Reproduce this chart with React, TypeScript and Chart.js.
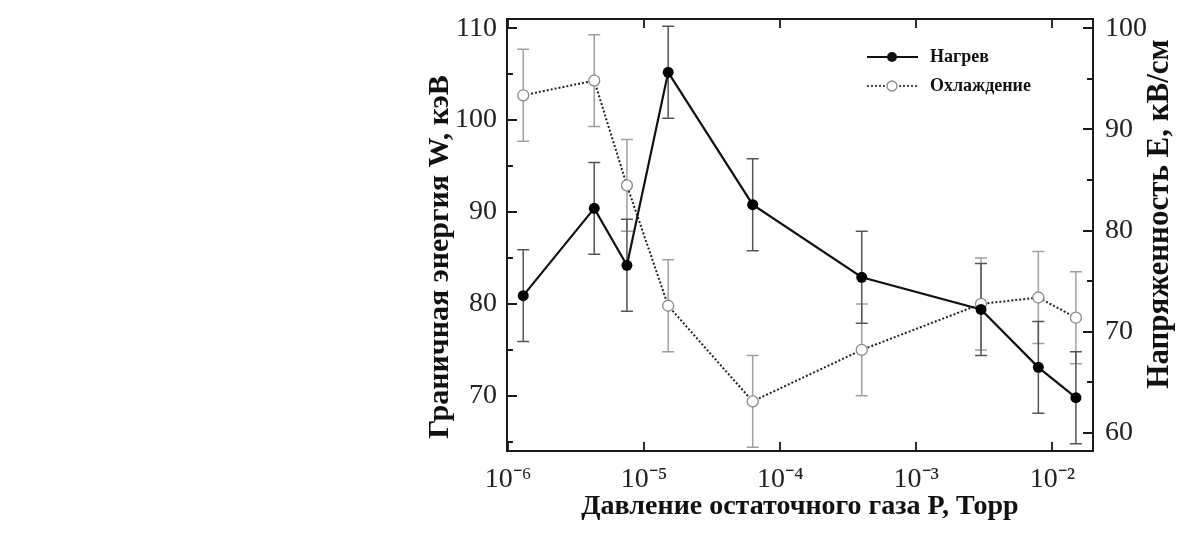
import React, { useEffect, useRef } from "react";
import { Chart, registerables } from "chart.js";

Chart.register(...registerables);

// ---- data ----
const pressure = [1.29e-6, 4.29e-6, 7.46e-6, 1.5e-5, 6.27e-5, 3.97e-4, 2.99e-3, 7.89e-3, 1.49e-2];
const heating = [80.9, 90.4, 84.2, 105.2, 90.8, 82.9, 79.4, 73.1, 69.8];
const heatingErr = [5, 5, 5, 5, 5, 5, 5, 5, 5];
const cooling = [102.7, 104.3, 92.9, 79.8, 69.4, 75.0, 80.0, 80.7, 78.5];
const coolingErr = [5, 5, 5, 5, 5, 5, 5, 5, 5];

const seriesNames = ["Нагрев", "Охлаждение"];
const xTickValues = [1e-6, 1e-5, 1e-4, 1e-3, 1e-2];
const xTickLabels = ["10⁻⁶", "10⁻⁵", "10⁻⁴", "10⁻³", "10⁻²"];
const wTickValues = [65, 70, 75, 80, 85, 90, 95, 100, 105, 110];
const eTickValues = [60, 65, 70, 75, 80, 85, 90, 95, 100];

const xTitle = "Давление остаточного газа P, Торр";
const wTitle = "Граничная энергия W, кэВ";
const eTitle = "Напряженность E, кВ/см";

const SERIF = "'Liberation Serif', 'Times New Roman', serif";
const AXIS = "#1a1a1a";

const decorPlugin = {
  id: "decor",
  beforeDatasetsDraw(chart: any) {
    const xs = chart.scales.x;
    const ys = chart.scales.y;
    const ctx = chart.ctx;
    const drawErr = (vals: number[], errs: number[], color: string) => {
      ctx.save();
      ctx.strokeStyle = color;
      ctx.lineWidth = 1.5;
      vals.forEach((v, i) => {
        const px = xs.getPixelForValue(pressure[i]);
        const t = ys.getPixelForValue(v + errs[i]);
        const b = ys.getPixelForValue(v - errs[i]);
        ctx.beginPath();
        ctx.moveTo(px, t);
        ctx.lineTo(px, b);
        ctx.moveTo(px - 6, t);
        ctx.lineTo(px + 6, t);
        ctx.moveTo(px - 6, b);
        ctx.lineTo(px + 6, b);
        ctx.stroke();
      });
      ctx.restore();
    };
    drawErr(cooling, coolingErr, "#a0a0a0");
    drawErr(heating, heatingErr, "#555555");
  },
  afterDraw(chart: any) {
    const ctx = chart.ctx;
    const a = chart.chartArea;
    const xs = chart.scales.x;
    const ys = chart.scales.y;
    const y2 = chart.scales.y2;
    ctx.save();
    ctx.strokeStyle = AXIS;
    ctx.lineWidth = 2;
    // top border
    ctx.beginPath();
    ctx.moveTo(a.left - 1, a.top);
    ctx.lineTo(a.right + 1, a.top);
    ctx.stroke();
    // inward ticks
    ctx.lineWidth = 1.8;
    ctx.beginPath();
    xTickValues.forEach((v) => {
      const px = Math.round(xs.getPixelForValue(v));
      ctx.moveTo(px, a.bottom);
      ctx.lineTo(px, a.bottom - 9);
      ctx.moveTo(px, a.top);
      ctx.lineTo(px, a.top + 9);
    });
    wTickValues.forEach((v) => {
      const py = Math.round(ys.getPixelForValue(v));
      const len = v % 10 === 0 ? 10 : 6;
      ctx.moveTo(a.left, py);
      ctx.lineTo(a.left + len, py);
    });
    eTickValues.forEach((v) => {
      const py = Math.round(y2.getPixelForValue(v));
      const len = v % 10 === 0 ? 10 : 6;
      ctx.moveTo(a.right, py);
      ctx.lineTo(a.right - len, py);
    });
    ctx.stroke();

    // legend
    const lx = a.left + 360;
    const rows = [a.top + 38, a.top + 67];
    ctx.font = `bold 18px ${SERIF}`;
    ctx.textBaseline = "middle";
    ctx.textAlign = "left";
    ctx.fillStyle = "#111";
    // heating
    ctx.strokeStyle = "#111";
    ctx.lineWidth = 2;
    ctx.setLineDash([]);
    ctx.beginPath();
    ctx.moveTo(lx, rows[0]);
    ctx.lineTo(lx + 51, rows[0]);
    ctx.stroke();
    ctx.beginPath();
    ctx.arc(lx + 25, rows[0], 5, 0, Math.PI * 2);
    ctx.fill();
    ctx.fillText(seriesNames[0], lx + 63, rows[0]);
    // cooling
    ctx.lineWidth = 1.5;
    ctx.setLineDash([2, 2]);
    ctx.beginPath();
    ctx.moveTo(lx, rows[1]);
    ctx.lineTo(lx + 51, rows[1]);
    ctx.stroke();
    ctx.setLineDash([]);
    ctx.beginPath();
    ctx.arc(lx + 25, rows[1], 5, 0, Math.PI * 2);
    ctx.fillStyle = "#fff";
    ctx.fill();
    ctx.strokeStyle = "#888";
    ctx.lineWidth = 1.3;
    ctx.stroke();
    ctx.fillStyle = "#111";
    ctx.fillText(seriesNames[1], lx + 63, rows[1]);

    // axis titles
    const cy = (a.top + a.bottom) / 2;
    ctx.textAlign = "center";
    ctx.fillStyle = "#111";
    ctx.font = `bold 28px ${SERIF}`;
    ctx.fillText(xTitle, (a.left + a.right) / 2, a.bottom + 56);
    ctx.save();
    ctx.font = `bold 30px ${SERIF}`;
    ctx.translate(a.left - 67, cy + 22);
    ctx.rotate(-Math.PI / 2);
    ctx.fillText(wTitle, 0, 0);
    ctx.restore();
    ctx.save();
    ctx.font = `bold 31px ${SERIF}`;
    ctx.translate(a.right + 67, cy - 21);
    ctx.rotate(-Math.PI / 2);
    ctx.fillText(eTitle, 0, 0);
    ctx.restore();
    ctx.restore();
  },
};

export default function App() {
  const ref = useRef<HTMLCanvasElement | null>(null);
  useEffect(() => {
    if (!ref.current) return;
    const tickFont = { family: SERIF, size: 28 };
    const zeroPad = (s: any) => {
      s.paddingTop = 0;
      s.paddingBottom = 0;
      s.paddingLeft = 0;
      s.paddingRight = 0;
    };
    const chart = new Chart(ref.current, {
      type: "line",
      data: {
        datasets: [
          {
            label: seriesNames[0],
            data: pressure.map((x, i) => ({ x, y: heating[i] })),
            yAxisID: "y",
            borderColor: "#111",
            borderWidth: 2.2,
            pointRadius: 5.5,
            pointBackgroundColor: "#000",
            pointBorderColor: "#000",
            pointBorderWidth: 0,
            tension: 0,
          },
          {
            label: seriesNames[1],
            data: pressure.map((x, i) => ({ x, y: cooling[i] })),
            yAxisID: "y",
            borderColor: "#222",
            borderWidth: 2,
            borderDash: [2, 2],
            pointRadius: 5.5,
            pointBackgroundColor: "#fff",
            pointBorderColor: "#8a8a8a",
            pointBorderWidth: 1.3,
            tension: 0,
          },
        ],
      },
      options: {
        animation: false,
        responsive: false,
        layout: { padding: { top: 19, left: 0, right: 0, bottom: 0 } },
        plugins: { legend: { display: false }, tooltip: { enabled: false } },
        scales: {
          x: {
            type: "logarithmic",
            position: "bottom",
            min: 0.98e-6,
            max: 1.99e-2,
            afterBuildTicks: (s: any) => {
              s.ticks = xTickValues.map((v) => ({ value: v }));
            },
            afterFit: (s: any) => {
              s.height = 86;
              zeroPad(s);
            },
            ticks: {
              autoSkip: false,
              maxRotation: 0,
              padding: 12,
              color: "#222",
              font: tickFont,
              callback: (v: any) => {
                const i = xTickValues.findIndex((t) => Math.abs(Math.log10(t) - Math.log10(v)) < 1e-6);
                return i >= 0 ? xTickLabels[i] : "";
              },
            },
            grid: { display: false, drawTicks: false },
            border: { display: true, color: AXIS, width: 2 },
          },
          y: {
            type: "linear",
            position: "left",
            min: 64,
            max: 111,
            afterBuildTicks: (s: any) => {
              s.ticks = wTickValues.map((v) => ({ value: v }));
            },
            afterFit: (s: any) => {
              s.width = 507;
              zeroPad(s);
            },
            ticks: {
              autoSkip: false,
              padding: 10,
              color: "#222",
              font: tickFont,
              callback: (v: any) => (Number(v) % 10 === 0 ? String(v) : ""),
            },
            grid: { display: false, drawTicks: false },
            border: { display: true, color: AXIS, width: 2 },
          },
          y2: {
            type: "linear",
            position: "right",
            min: 58.19,
            max: 100.92,
            afterBuildTicks: (s: any) => {
              s.ticks = eTickValues.map((v) => ({ value: v }));
            },
            afterFit: (s: any) => {
              s.width = 111;
              zeroPad(s);
            },
            ticks: {
              autoSkip: false,
              padding: 12,
              color: "#222",
              font: tickFont,
              callback: (v: any) => (Number(v) % 10 === 0 ? String(v) : ""),
            },
            grid: { display: false, drawTicks: false },
            border: { display: true, color: AXIS, width: 2 },
          },
        },
      },
      plugins: [decorPlugin],
    } as any);
    return () => chart.destroy();
  }, []);

  return (
    <div style={{ position: "absolute", left: 0, top: 0, width: 1204, height: 537, background: "#fff" }}>
      <canvas ref={ref} width={1204} height={537} style={{ display: "block" }} />
    </div>
  );
}
